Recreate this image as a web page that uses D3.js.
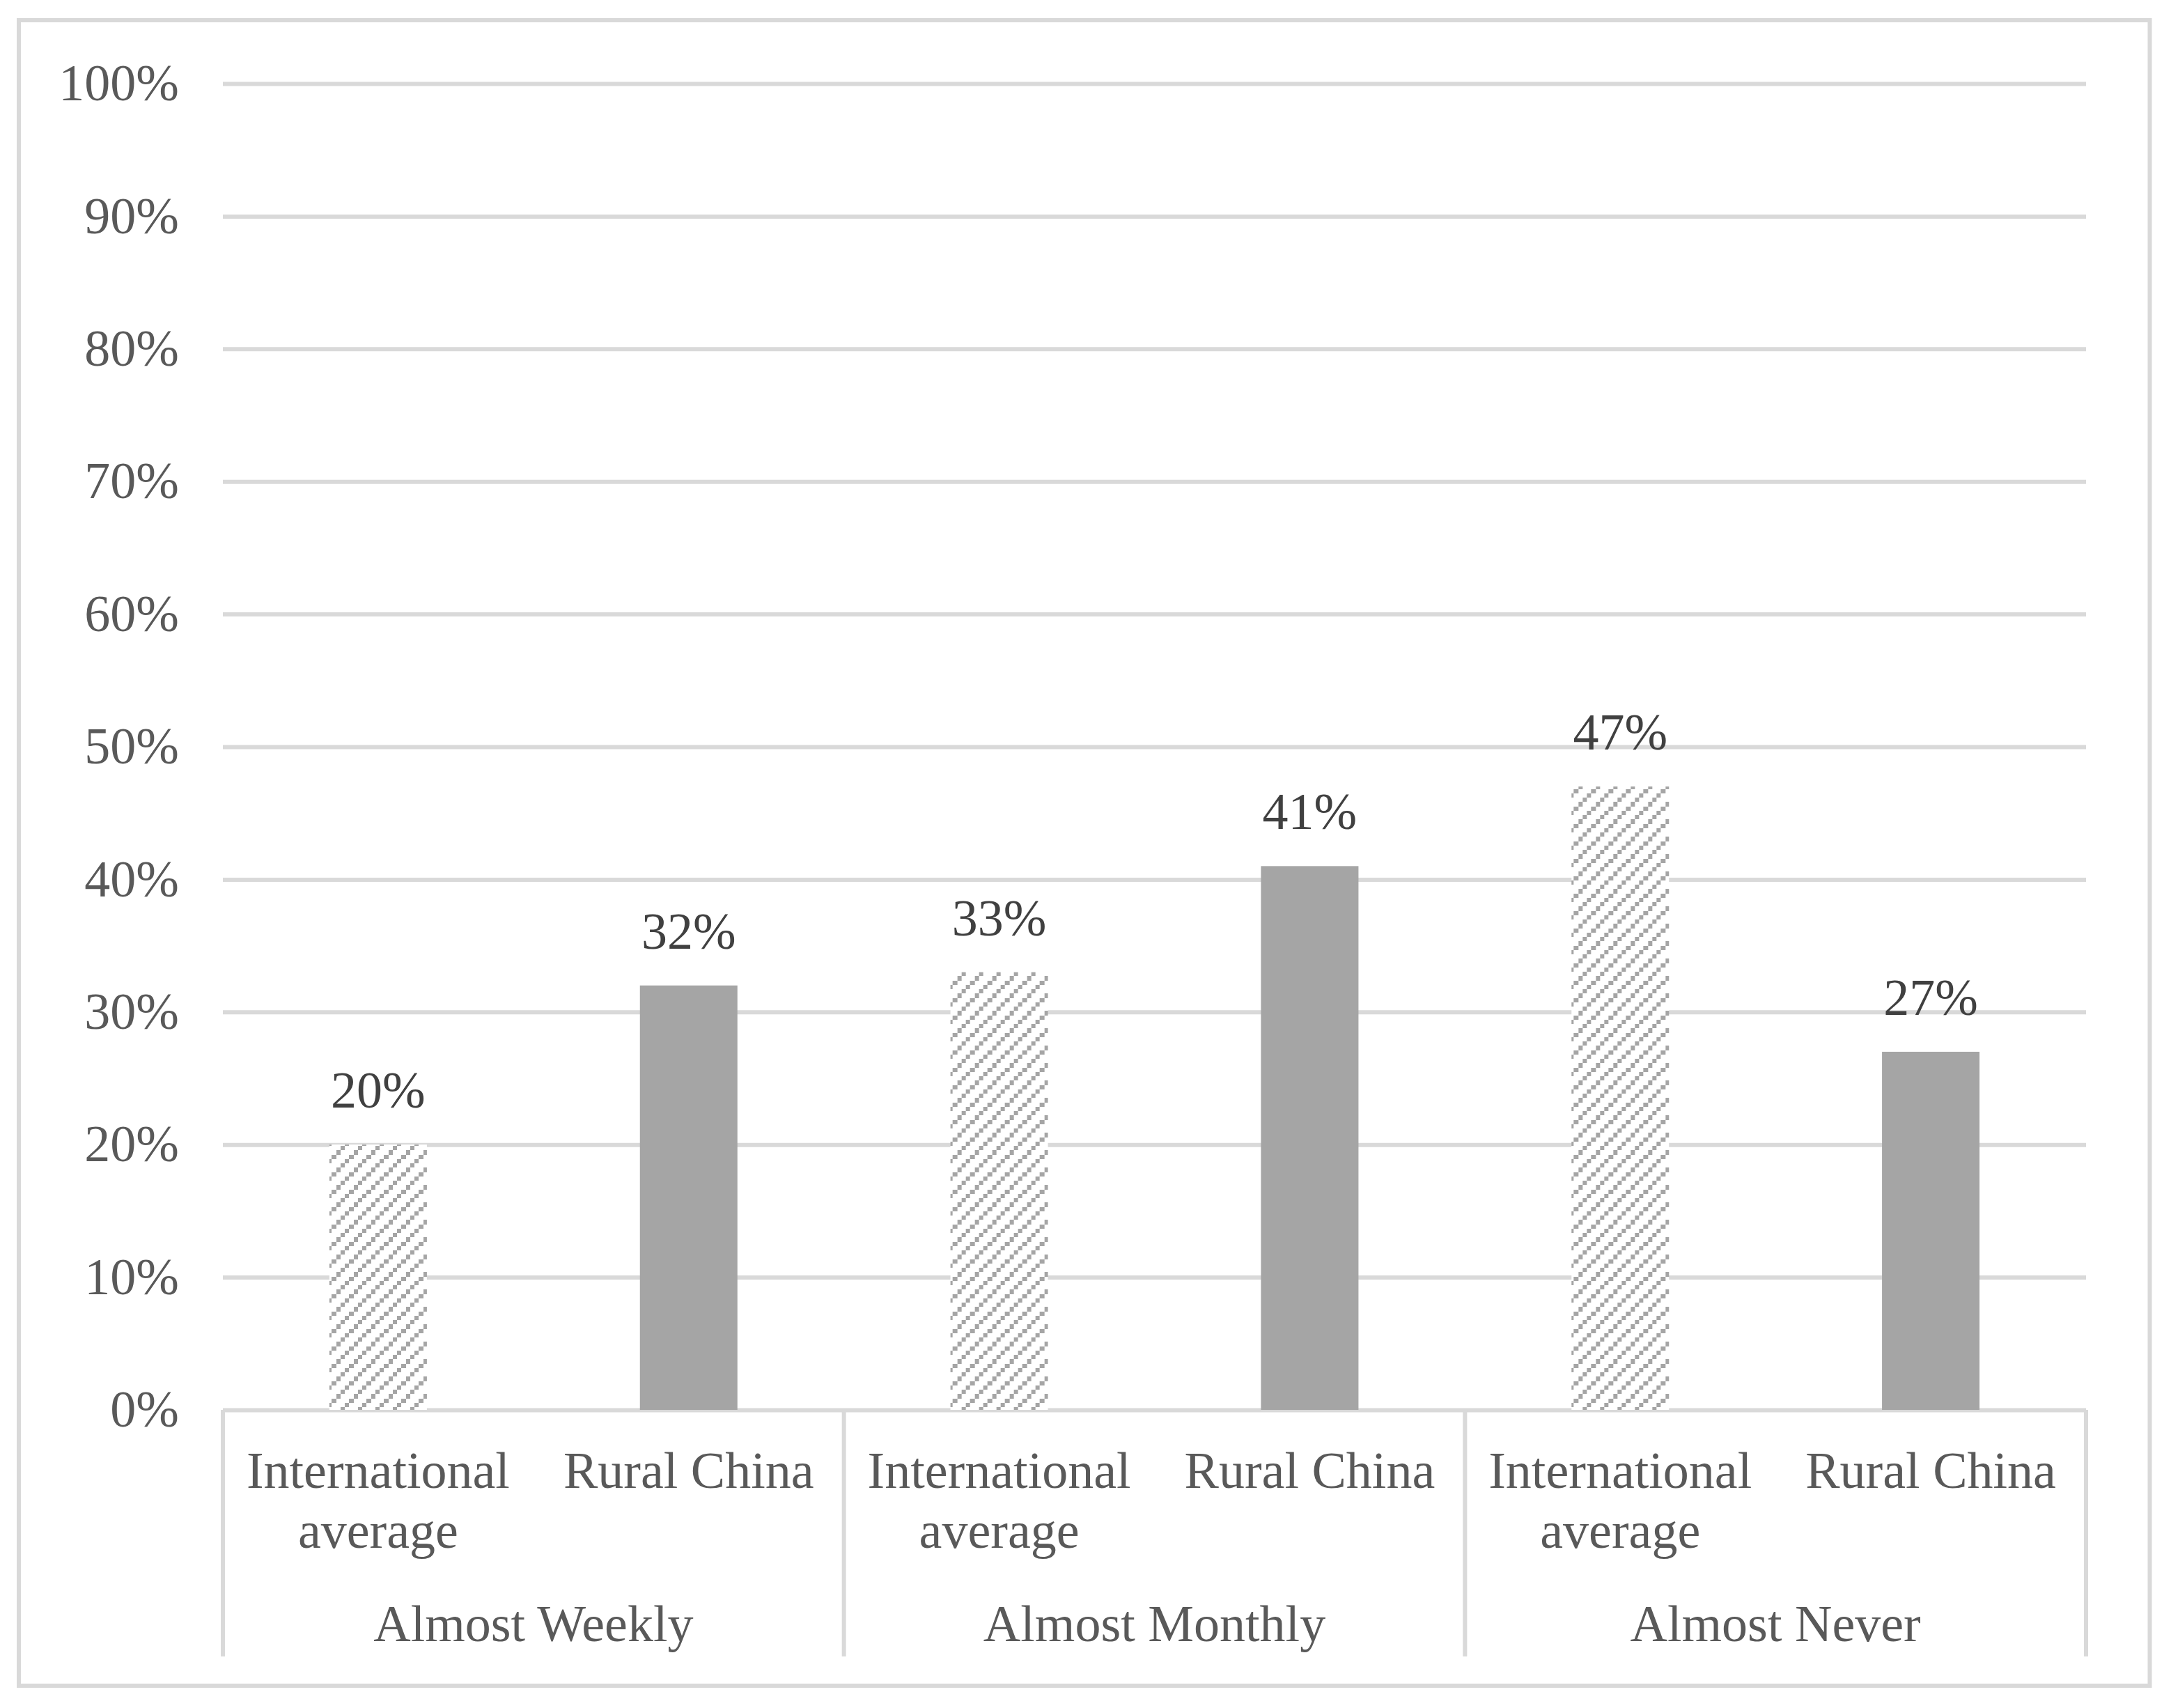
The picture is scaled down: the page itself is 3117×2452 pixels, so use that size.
<!DOCTYPE html>
<html>
<head>
<meta charset="utf-8">
<script src="https://cdn.jsdelivr.net/npm/d3@7"></script>
<style>
  body { margin: 0; background: #ffffff; }
  text { font-family: "Liberation Serif", "Times New Roman", serif; }
</style>
</head>
<body>
<div id="chart"></div>
<script>
// ---------------- data
const groups = ["Almost Weekly", "Almost Monthly", "Almost Never"]
const seriesNames = ["International average", "Rural China"]
const seriesLines = [["International", "average"], ["Rural China"]]
const intlValues = [0.20, 0.33, 0.47]
const ruralValues = [0.32, 0.41, 0.27]
const yTicks = [0, 0.1, 0.2, 0.3, 0.4, 0.5, 0.6, 0.7, 0.8, 0.9, 1]

function draw() {

//*************************1. Dimensions
    const dimensions = {
        width: 3117,
        height: 2452,
        margin: {
            top: 120,
            right: 122,
            bottom: 428,
            left: 320
        }
    }
    dimensions.boundedWidth = dimensions.width
        - dimensions.margin.left
        - dimensions.margin.right
    dimensions.boundedHeight = dimensions.height
        - dimensions.margin.top
        - dimensions.margin.bottom

    const gridColor = "#d9d9d9"
    const textColor = "#595959"
    const barColor = "#a5a5a5"
    const fontSize = 74

//*************************2. Wrapper and bounds
    const wrapper = d3.select("#chart")
        .append("svg")
        .attr("width", dimensions.width)
        .attr("height", dimensions.height)

    wrapper.append("rect")
        .attr("width", dimensions.width)
        .attr("height", dimensions.height)
        .attr("fill", "#ffffff")

    // chart area border
    wrapper.append("rect")
        .attr("x", 27)
        .attr("y", 29)
        .attr("width", dimensions.width - 57.5)
        .attr("height", dimensions.height - 61)
        .attr("fill", "none")
        .attr("stroke", gridColor)
        .attr("stroke-width", 6)

    // hatch pattern (light upward diagonal)
    const cell = 6.25
    const pattern = wrapper.append("defs")
        .append("pattern")
        .attr("id", "hatch")
        .attr("patternUnits", "userSpaceOnUse")
        .attr("width", cell * 4)
        .attr("height", cell * 4)
    pattern.append("rect")
        .attr("width", cell * 4)
        .attr("height", cell * 4)
        .attr("fill", "#ffffff")
    pattern.selectAll("rect.dot")
        .data([0, 1, 2, 3])
        .join("rect")
        .attr("class", "dot")
        .attr("x", i => (3 - i) * cell)
        .attr("y", i => i * cell)
        .attr("width", cell)
        .attr("height", cell)
        .attr("fill", barColor)
        .attr("shape-rendering", "crispEdges")

    const bounds = wrapper.append("g")
        .attr("transform", `translate(${dimensions.margin.left},${dimensions.margin.top})`)

//*************************3. Accessors
    const rows = groups.map((g, i) => ({
        group: g,
        values: [intlValues[i], ruralValues[i]]
    }))
    const groupAccessor = d => d.group

//*************************4. Scales
    const yScale = d3.scaleLinear()
        .domain([0, 1])
        .range([dimensions.boundedHeight, 0])

    const xGroupScale = d3.scaleBand()
        .domain(groups)
        .range([0, dimensions.boundedWidth])

    const xSeriesScale = d3.scaleBand()
        .domain(seriesNames)
        .range([0, xGroupScale.bandwidth()])
        .paddingInner(0.686)
        .paddingOuter(0.343)

//*************************5. Peripherals
    const yAxisGenerator = d3.axisLeft(yScale)
        .tickValues(yTicks)
        .tickFormat(d3.format(".0%"))
        .tickSize(-dimensions.boundedWidth)
        .tickPadding(63)

    const yAxis = bounds.append("g")
        .call(yAxisGenerator)
    yAxis.select(".domain").remove()
    yAxis.selectAll(".tick line")
        .attr("stroke", gridColor)
        .attr("stroke-width", 6)
    yAxis.selectAll(".tick text")
        .attr("fill", textColor)
        .attr("font-size", fontSize)
        .attr("dy", "0.32em")

    // category box lines below the plot
    const boxDepth = 354
    const separators = groups.map(g => xGroupScale(g)).concat([dimensions.boundedWidth])
    bounds.append("g")
        .selectAll("line")
        .data(separators)
        .join("line")
        .attr("x1", d => d)
        .attr("x2", d => d)
        .attr("y1", dimensions.boundedHeight)
        .attr("y2", dimensions.boundedHeight + boxDepth)
        .attr("stroke", gridColor)
        .attr("stroke-width", 6)

//*************************6. Bars
    const groupG = bounds.append("g")
        .selectAll("g")
        .data(rows)
        .join("g")
        .attr("transform", d => `translate(${xGroupScale(groupAccessor(d))},0)`)

    groupG.selectAll("rect")
        .data(d => d.values.map((v, i) => ({ series: seriesNames[i], value: v })))
        .join("rect")
        .attr("x", d => xSeriesScale(d.series))
        .attr("width", xSeriesScale.bandwidth())
        .attr("y", d => yScale(d.value))
        .attr("height", d => dimensions.boundedHeight - yScale(d.value))
        .attr("fill", d => d.series === seriesNames[0] ? "url(#hatch)" : barColor)

    // value labels
    groupG.selectAll("text.value")
        .data(d => d.values.map((v, i) => ({ series: seriesNames[i], value: v })))
        .join("text")
        .attr("class", "value")
        .attr("x", d => xSeriesScale(d.series) + xSeriesScale.bandwidth() / 2)
        .attr("y", d => yScale(d.value) - 53)
        .attr("text-anchor", "middle")
        .attr("font-size", fontSize)
        .attr("fill", "#404040")
        .text(d => d3.format(".0%")(d.value))

    // series labels (first level)
    groupG.selectAll("text.series")
        .data(seriesNames)
        .join("text")
        .attr("class", "series")
        .attr("x", d => xSeriesScale(d) + xSeriesScale.bandwidth() / 2)
        .attr("y", dimensions.boundedHeight + 112)
        .attr("text-anchor", "middle")
        .attr("font-size", fontSize)
        .attr("fill", textColor)
        .selectAll("tspan")
        .data(d => seriesLines[seriesNames.indexOf(d)])
        .join("tspan")
        .attr("x", function () { return d3.select(this.parentNode).attr("x") })
        .attr("dy", (d, i) => i === 0 ? 0 : 86)
        .text(d => d)

    // group labels (second level)
    groupG.append("text")
        .attr("x", xGroupScale.bandwidth() / 2)
        .attr("y", dimensions.boundedHeight + 332)
        .attr("text-anchor", "middle")
        .attr("font-size", fontSize)
        .attr("fill", textColor)
        .text(d => groupAccessor(d))
}
draw()
</script>
</body>
</html>
